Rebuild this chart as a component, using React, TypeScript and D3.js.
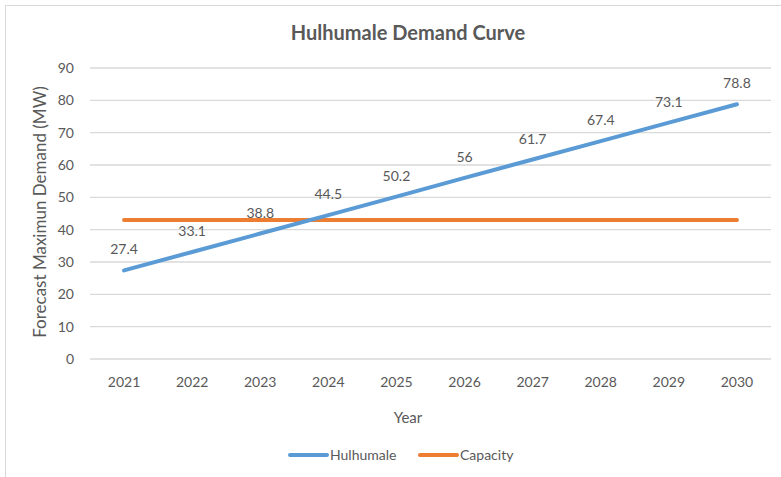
import React from "react";
import { scaleBand, scaleLinear, line } from "d3";

const width = 781;
const height = 477;

// plot area (pixels inside the svg)
const margin = { top: 68, right: 10, bottom: 118, left: 90 };

const fontFamily = "Lato, 'Open Sans', sans-serif";
const textColor = "#595959";
const gridColor = "#d9d9d9";
const blue = "#5b9bd5";
const orange = "#ed7d31";

// Data
const years = ["2021", "2022", "2023", "2024", "2025", "2026", "2027", "2028", "2029", "2030"];
const hulhumale = [27.4, 33.1, 38.8, 44.5, 50.2, 56, 61.7, 67.4, 73.1, 78.8];
const capacity = [43, 43, 43, 43, 43, 43, 43, 43, 43, 43];
const yTicks = [0, 10, 20, 30, 40, 50, 60, 70, 80, 90];

const title = "Hulhumale Demand Curve";
const xAxisLabel = "Year";
const yAxisLabel = "Forecast  Maximun Demand (MW)";

const App = () => {
  const innerWidth = width - margin.left - margin.right;
  const innerHeight = height - margin.top - margin.bottom;

  const xScale = scaleBand<string>().domain(years).range([0, innerWidth]);
  const yScale = scaleLinear().domain([0, 90]).range([innerHeight, 0]);
  const xMid = (d: string) => (xScale(d) ?? 0) + xScale.bandwidth() / 2;

  const lineGen = line<number>()
    .x((_, i) => xMid(years[i]))
    .y((d) => yScale(d));

  // the chart area is wider than the visible crop, titles centre on it
  const centerX = 408;

  return (
    <svg
      width={width}
      height={height}
      style={{ position: "absolute", left: 0, top: 0, background: "#fff" }}
      fontFamily={fontFamily}
    >
      {/* chart border */}
      <line x1={5.5} x2={width} y1={5.5} y2={5.5} stroke={gridColor} />
      <line x1={5.5} x2={5.5} y1={5.5} y2={height} stroke={gridColor} />

      <text
        x={centerX}
        y={40}
        textAnchor="middle"
        fontSize={20}
        fontWeight="bold"
        fill={textColor}
      >
        {title}
      </text>

      <g transform={`translate(${margin.left},${margin.top})`}>
        {yTicks.map((t) => (
          <g key={t} transform={`translate(0,${yScale(t)})`}>
            <line x1={0} x2={innerWidth} stroke={gridColor} strokeWidth={1.3} />
            <text x={-16} dy="0.35em" textAnchor="end" fontSize={14} fill={textColor}>
              {t}
            </text>
          </g>
        ))}

        {years.map((y) => (
          <text
            key={y}
            x={xMid(y)}
            y={innerHeight + 28}
            textAnchor="middle"
            fontSize={14}
            fill={textColor}
          >
            {y}
          </text>
        ))}

        <path
          d={lineGen(capacity) ?? ""}
          fill="none"
          stroke={orange}
          strokeWidth={4}
          strokeLinecap="round"
        />
        <path
          d={lineGen(hulhumale) ?? ""}
          fill="none"
          stroke={blue}
          strokeWidth={4}
          strokeLinecap="round"
        />

        {hulhumale.map((v, i) => (
          <text
            key={years[i]}
            x={xMid(years[i])}
            y={yScale(v) - 16}
            textAnchor="middle"
            fontSize={14}
            fill={textColor}
          >
            {v}
          </text>
        ))}
      </g>

      <text
        x={centerX}
        y={423}
        textAnchor="middle"
        fontSize={15}
        fill={textColor}
      >
        {xAxisLabel}
      </text>

      <text
        textAnchor="middle"
        fontSize={17}
        fill={textColor}
        transform={`translate(46,212) rotate(-90)`}
      >
        {yAxisLabel}
      </text>

      {/* legend */}
      <g transform="translate(290,455)" fontSize={14} fill={textColor}>
        <line x1={0} x2={37} stroke={blue} strokeWidth={4} strokeLinecap="round" />
        <text x={40} dy="0.35em">Hulhumale</text>
        <line x1={130} x2={167} stroke={orange} strokeWidth={4} strokeLinecap="round" />
        <text x={170} dy="0.35em">Capacity</text>
      </g>
    </svg>
  );
};

export default App;
